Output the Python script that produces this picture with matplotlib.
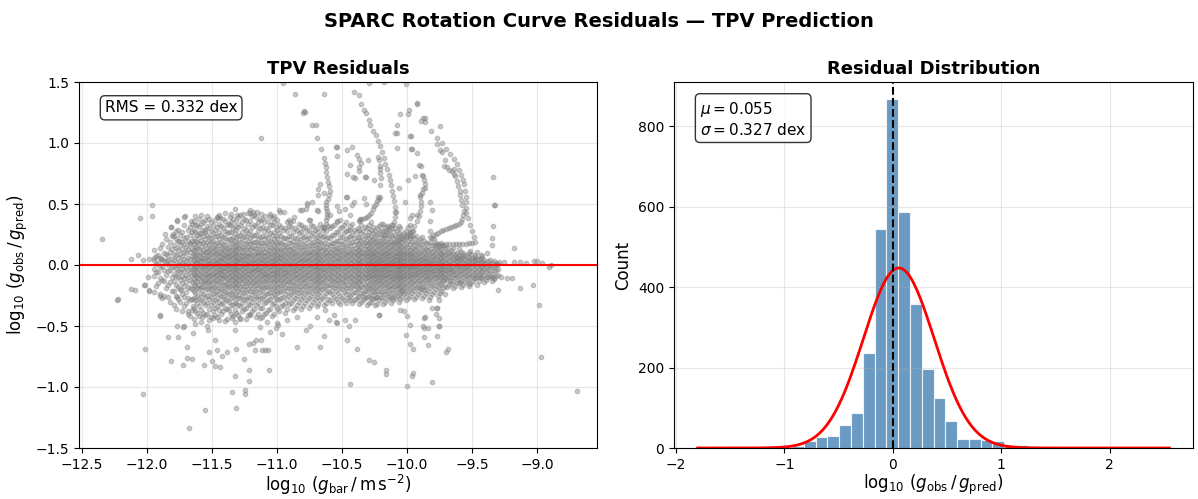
import numpy as np
import matplotlib
matplotlib.use("Agg")
import matplotlib.pyplot as plt

# ---------------- data: histogram ----------------
hist_range = (-1.80, 2.55)
hist_counts = [1, 0, 0, 0, 0, 1, 1, 2, 4, 17,
               28, 31, 56, 86, 236, 544, 867, 587, 358, 196,
               124, 67, 22, 23, 20, 17, 8, 7, 6, 2,
               3, 2, 1, 1, 1, 0, 0, 0, 0, 1]
n_points = 3375
mu_res = 0.055
sigma_res = 0.327
rms_res = 0.332

# ---------------- data: residual scatter ----------------
# dense core: column position -> residuals in hundredths of dex
core_cols = [
    (-11.94, "-22 -9 -3 4 12"),
    (-11.91, "-15 -6 2 8"),
    (-11.88, "-27 -12 -1 5 17"),
    (-11.85, "-19 -8 3 9 21"),
    (-11.82, "-30 -14 -4 2 11 19"),
    (-11.79, "-33 -21 -13 -7 -1 4 9 16 24"),
    (-11.76, "-28 -18 -10 -5 0 6 12 20 29"),
    (-11.73, "-38 -24 -15 -9 -3 2 7 13 19 27"),
    (-11.70, "-31 -22 -14 -8 -2 3 10 15 23"),
    (-11.67, "-42 -29 -19 -12 -6 -1 5 11 18 25 31"),
    (-11.64, "-44 -35 -27 -21 -16 -11 -7 -3 0 4 8 12 17 22 29 36"),
    (-11.61, "-39 -31 -25 -19 -14 -10 -6 -2 2 5 9 14 19 25 33"),
    (-11.58, "-47 -37 -29 -23 -18 -13 -9 -5 -1 3 6 10 15 20 26 34 41"),
    (-11.55, "-41 -33 -26 -20 -15 -12 -8 -4 -1 2 6 11 16 21 27 37"),
    (-11.52, "-45 -36 -28 -22 -17 -13 -9 -6 -2 1 4 8 12 17 23 30 38"),
    (-11.49, "-38 -30 -24 -19 -14 -10 -7 -3 0 3 7 11 15 20 26 33"),
    (-11.46, "-43 -34 -27 -21 -16 -12 -8 -5 -1 2 5 9 13 18 24 31 39"),
    (-11.43, "-40 -32 -25 -20 -15 -11 -7 -4 -1 3 6 10 14 19 25 32"),
    (-11.40, "-46 -35 -28 -22 -17 -13 -9 -5 -2 1 5 8 12 16 22 28 36 43"),
    (-11.37, "-37 -30 -24 -18 -14 -10 -6 -3 0 4 7 11 15 21 27 34"),
    (-11.34, "-42 -33 -26 -21 -16 -12 -8 -4 -1 2 6 9 13 18 23 30 38"),
    (-11.31, "-39 -31 -25 -19 -15 -11 -7 -3 1 4 8 12 16 22 29 36"),
    (-11.28, "-44 -34 -27 -22 -17 -12 -9 -5 -2 2 5 9 14 19 25 33 41"),
    (-11.25, "-36 -29 -23 -18 -13 -9 -6 -2 1 5 8 12 17 23 30 38"),
    (-11.22, "-41 -32 -26 -20 -15 -11 -7 -4 0 3 7 10 15 20 26 34 43"),
    (-11.19, "-38 -30 -24 -19 -14 -10 -6 -3 1 4 8 13 18 24 31 40"),
    (-11.16, "-43 -33 -26 -21 -16 -12 -8 -4 -1 2 6 10 14 19 25 32 39"),
    (-11.13, "-35 -28 -22 -17 -13 -9 -5 -2 2 5 9 13 18 23 30 37"),
    (-11.10, "-40 -31 -25 -19 -14 -10 -7 -3 0 4 7 11 16 21 28 35"),
    (-11.07, "-37 -29 -23 -18 -13 -9 -6 -2 1 5 9 12 17 22 29 36"),
    (-11.04, "-42 -32 -25 -20 -15 -11 -7 -4 0 3 6 10 14 19 25 33"),
    (-11.01, "-34 -27 -21 -16 -12 -8 -5 -1 2 6 9 13 18 24 31"),
    (-10.98, "-38 -29 -22 -17 -12 -8 -4 -1 3 6 10 14 19 26 33"),
    (-10.95, "-33 -26 -20 -15 -11 -7 -3 0 4 8 12 17 22 29"),
    (-10.92, "-36 -28 -21 -16 -12 -8 -5 -1 2 6 10 15 21 28 35"),
    (-10.89, "-31 -24 -19 -14 -10 -6 -2 1 5 9 13 18 24 31"),
    (-10.86, "-35 -27 -21 -16 -11 -7 -4 0 3 7 11 16 22 30"),
    (-10.83, "-30 -23 -18 -13 -9 -5 -2 2 5 9 14 19 26 34"),
    (-10.80, "-34 -26 -20 -15 -11 -7 -3 0 4 8 12 17 23 30"),
    (-10.77, "-29 -22 -17 -12 -8 -5 -1 3 6 10 15 21 28"),
    (-10.74, "-33 -25 -19 -14 -10 -6 -2 1 5 9 13 18 25 33"),
    (-10.71, "-28 -21 -16 -12 -8 -4 -1 3 7 11 16 22 29"),
    (-10.68, "-32 -24 -18 -13 -9 -5 -2 2 6 10 14 20 27"),
    (-10.65, "-27 -20 -15 -11 -7 -3 0 4 8 12 17 23 31"),
    (-10.62, "-31 -23 -17 -12 -8 -4 -1 3 7 11 15 21 28"),
    (-10.59, "-29 -22 -16 -12 -8 -4 0 3 7 11 16 22 30"),
    (-10.56, "-26 -19 -14 -10 -6 -2 1 5 9 13 18 25 33"),
    (-10.53, "-30 -23 -17 -12 -8 -4 -1 3 6 10 14 20 27"),
    (-10.50, "-27 -20 -15 -11 -7 -3 0 4 8 12 17 23 31"),
    (-10.47, "-31 -24 -18 -13 -9 -5 -1 2 6 10 15 21 28 35"),
    (-10.44, "-25 -19 -14 -10 -6 -2 2 5 9 13 18 24 32"),
    (-10.41, "-29 -22 -16 -12 -8 -4 -1 3 7 11 16 22 29"),
    (-10.38, "-26 -20 -15 -11 -7 -3 1 4 8 12 17 23 30"),
    (-10.35, "-30 -23 -17 -12 -8 -4 0 3 7 11 15 20 26 33"),
    (-10.32, "-27 -21 -16 -11 -7 -3 1 5 9 13 18 24 31"),
    (-10.29, "-31 -25 -20 -16 -12 -9 -6 -3 0 2 5 8 11 14 18 22 27 33"),
    (-10.26, "-28 -22 -18 -14 -10 -7 -4 -1 1 4 7 10 13 17 21 26 31"),
    (-10.23, "-32 -26 -21 -17 -13 -10 -7 -4 -2 1 3 6 9 12 16 20 25 30"),
    (-10.20, "-27 -22 -17 -13 -10 -7 -4 -1 2 4 7 10 14 18 23 28 34"),
    (-10.17, "-30 -24 -19 -15 -11 -8 -5 -2 0 3 6 9 12 16 20 25 31"),
    (-10.14, "-26 -21 -17 -13 -9 -6 -3 0 2 5 8 11 15 19 24 29"),
    (-10.11, "-29 -23 -18 -14 -11 -8 -5 -2 1 3 6 9 13 17 22 27 33"),
    (-10.08, "-25 -20 -16 -12 -9 -6 -3 -1 2 4 7 10 14 18 23 28"),
    (-10.05, "-28 -22 -17 -13 -10 -7 -4 -1 1 4 7 11 15 19 24 30"),
    (-10.02, "-24 -19 -15 -11 -8 -5 -2 0 3 6 9 12 16 21 26"),
    (-9.99, "-27 -21 -16 -12 -9 -6 -3 -1 2 5 8 11 15 20 25 31"),
    (-9.96, "-23 -18 -14 -10 -7 -4 -1 1 4 7 10 14 19 24"),
    (-9.93, "-26 -19 -14 -10 -7 -4 -1 2 5 9 13 18 24"),
    (-9.90, "-22 -16 -12 -8 -5 -2 1 4 7 11 16 21"),
    (-9.87, "-25 -18 -13 -9 -6 -3 0 3 6 10 14 20"),
    (-9.84, "-21 -15 -11 -8 -5 -2 1 4 8 12 17"),
    (-9.81, "-24 -17 -12 -8 -5 -2 1 4 7 11 16 22"),
    (-9.78, "-20 -14 -10 -7 -4 -1 2 5 9 13 18"),
    (-9.75, "-23 -16 -11 -7 -4 -1 2 6 10 15"),
    (-9.72, "-19 -13 -9 -6 -3 0 3 7 11 16"),
    (-9.69, "-18 -12 -8 -4 -1 2 6 10 14"),
    (-9.66, "-15 -10 -6 -3 0 4 8 12"),
    (-9.63, "-17 -11 -7 -3 1 5 9"),
    (-9.60, "-14 -9 -5 -2 1 4 8 13"),
    (-9.57, "-16 -10 -6 -2 2 6 10"),
    (-9.54, "-12 -8 -4 -1 3 7"),
    (-9.51, "-15 -9 -5 -1 2 5 9"),
    (-9.48, "-11 -7 -3 1 4 8"),
    (-9.45, "-13 -7 -3 1 5"),
    (-9.42, "-10 -5 -1 3 7"),
    (-9.39, "-12 -6 -2 2"),
    (-9.36, "-9 -4 0 4"),
    (-9.33, "-11 -5 -1 3"),
    (-9.30, "-8 -3 1"),
]
core_cols_b = [
    (-11.925, "-17 -6 1 7"),
    (-11.895, "-24 -11 -2 6 14"),
    (-11.865, "-13 -4 3 10"),
    (-11.835, "-26 -16 -5 0 7 15"),
    (-11.805, "-21 -10 -2 5 13 24"),
    (-11.775, "-36 -25 -16 -9 -3 2 8 14 21 28"),
    (-11.745, "-30 -20 -12 -6 -1 3 9 16 25"),
    (-11.715, "-34 -26 -17 -11 -5 0 5 11 17 22 33"),
    (-11.685, "-40 -27 -18 -10 -4 1 6 13 20 29"),
    (-11.655, "-37 -28 -20 -14 -8 -3 2 7 13 20 27 34"),
    (-11.625, "-48 -38 -29 -23 -17 -13 -8 -4 -1 2 6 10 15 20 27 33 40"),
    (-11.595, "-42 -34 -27 -20 -16 -11 -7 -3 1 4 8 13 18 23 31 38"),
    (-11.565, "-39 -30 -24 -18 -14 -10 -6 -2 0 5 9 12 18 24 29 35"),
    (-11.535, "-50 -40 -31 -25 -19 -14 -10 -7 -3 1 4 7 11 14 19 25 32 40"),
    (-11.505, "-43 -33 -26 -20 -16 -12 -8 -4 -1 2 6 10 14 19 22 28 35"),
    (-11.475, "-41 -35 -29 -23 -18 -13 -9 -6 -2 1 4 9 13 17 24 29 37"),
    (-11.445, "-45 -37 -30 -24 -19 -14 -10 -6 -3 0 3 7 11 16 21 27 34 41"),
    (-11.415, "-38 -31 -26 -21 -16 -11 -8 -5 -2 2 6 9 13 17 23 30 38"),
    (-11.385, "-44 -36 -29 -24 -19 -15 -11 -7 -3 0 3 7 10 14 20 26 33"),
    (-11.355, "-40 -33 -27 -22 -17 -12 -9 -6 -2 1 5 8 12 17 21 27 35 42"),
    (-11.325, "-47 -37 -30 -24 -18 -14 -10 -6 -3 0 3 7 11 15 20 26 32"),
    (-11.295, "-41 -33 -27 -21 -16 -12 -8 -4 -1 3 6 10 14 18 24 31 39"),
    (-11.265, "-38 -31 -25 -20 -15 -11 -7 -3 0 4 7 11 15 21 27 35"),
    (-11.235, "-44 -35 -28 -22 -17 -13 -9 -5 -2 1 4 8 13 18 24 29 37"),
    (-11.205, "-40 -33 -27 -21 -16 -12 -8 -5 -1 2 6 9 13 17 22 28 36 45"),
    (-11.175, "-36 -28 -22 -17 -13 -9 -5 -2 2 5 9 14 19 25 33 41"),
    (-11.145, "-40 -31 -25 -19 -14 -10 -6 -3 0 4 8 11 16 21 28 35"),
    (-11.115, "-43 -35 -27 -21 -17 -12 -8 -5 -1 2 5 9 13 18 24 31 38"),
    (-11.085, "-39 -30 -24 -18 -14 -10 -7 -3 1 4 8 13 18 24 30"),
    (-11.055, "-36 -28 -22 -17 -12 -8 -4 -1 2 6 10 15 20 26 33 40"),
    (-11.025, "-40 -31 -24 -19 -14 -10 -6 -2 1 4 8 12 16 21 27 35"),
    (-10.995, "-36 -28 -23 -18 -13 -9 -6 -3 1 5 8 12 17 22 29 37"),
    (-10.965, "-34 -27 -21 -16 -12 -8 -4 -1 2 6 9 13 18 24 31"),
    (-10.935, "-39 -31 -24 -18 -13 -9 -6 -3 1 4 8 12 16 22 30"),
    (-10.905, "-32 -25 -19 -14 -10 -6 -2 1 5 9 13 18 24 32"),
    (-10.875, "-37 -29 -22 -17 -13 -9 -5 -2 2 6 10 14 20 27 36"),
    (-10.845, "-33 -25 -20 -15 -11 -7 -3 0 4 8 12 17 22 29"),
    (-10.815, "-36 -28 -22 -17 -12 -8 -4 -1 3 6 10 15 21 27 33"),
    (-10.785, "-31 -24 -18 -14 -10 -6 -2 2 5 9 13 18 24 31"),
    (-10.755, "-35 -27 -21 -16 -11 -7 -3 0 4 8 11 16 22 29 37"),
    (-10.725, "-30 -23 -18 -13 -9 -5 -1 2 6 10 14 19 26 32"),
    (-10.695, "-34 -26 -20 -15 -11 -7 -3 0 4 8 12 17 23 30"),
    (-10.665, "-29 -22 -17 -13 -9 -5 -2 2 5 9 14 19 25 34"),
    (-10.635, "-33 -25 -19 -14 -10 -6 -3 1 5 9 13 18 24 30"),
    (-10.605, "-28 -21 -16 -11 -7 -3 0 4 8 12 17 23 32"),
    (-10.575, "-31 -24 -18 -13 -9 -5 -2 1 5 9 13 18 25 32"),
    (-10.545, "-28 -21 -16 -12 -8 -4 -1 3 7 11 15 20 27"),
    (-10.515, "-32 -25 -19 -14 -10 -6 -2 1 5 8 12 17 23 30 37"),
    (-10.485, "-29 -22 -17 -13 -9 -5 -2 2 6 10 14 19 26 33"),
    (-10.455, "-27 -21 -16 -11 -7 -3 0 4 8 11 16 22 29"),
    (-10.425, "-31 -24 -18 -14 -10 -6 -2 1 5 9 13 19 25 34"),
    (-10.395, "-28 -22 -17 -13 -9 -5 -1 2 6 10 14 20 27"),
    (-10.365, "-32 -25 -19 -14 -10 -6 -2 2 5 9 13 18 23 29 36"),
    (-10.335, "-29 -23 -18 -13 -9 -5 -1 3 7 11 16 21 28"),
    (-10.305, "-33 -26 -21 -17 -13 -10 -7 -4 -1 1 4 7 10 13 16 20 25 30"),
    (-10.275, "-30 -24 -19 -15 -11 -8 -5 -2 1 3 6 9 12 16 20 24 29 35"),
    (-10.245, "-33 -27 -22 -18 -14 -11 -8 -5 -3 0 2 5 8 11 15 19 23 28"),
    (-10.215, "-29 -24 -19 -15 -12 -9 -6 -3 0 3 5 8 12 16 20 26 32"),
    (-10.185, "-32 -26 -21 -16 -12 -9 -6 -3 -1 2 5 8 11 15 19 23 28 34"),
    (-10.155, "-28 -23 -18 -14 -10 -7 -4 -1 1 4 7 10 13 17 22 27 32"),
    (-10.125, "-31 -25 -20 -16 -12 -9 -6 -3 0 2 5 8 12 16 20 25 30"),
    (-10.095, "-27 -22 -17 -13 -10 -7 -4 -1 1 4 7 10 14 19 24 30"),
    (-10.065, "-30 -24 -19 -15 -11 -8 -5 -2 0 3 6 9 12 16 21 26 32"),
    (-10.035, "-26 -21 -16 -12 -9 -6 -3 0 2 5 8 11 15 20 25"),
    (-10.005, "-29 -23 -18 -14 -10 -7 -4 -1 1 4 7 10 14 18 23 28"),
    (-9.975, "-25 -20 -15 -11 -8 -5 -2 0 3 6 9 12 17 22 27"),
    (-9.945, "-28 -21 -16 -12 -8 -5 -2 0 3 6 9 13 17 22"),
    (-9.915, "-24 -18 -13 -9 -6 -3 0 3 6 10 15 20"),
    (-9.885, "-27 -20 -15 -11 -7 -4 -1 2 5 8 12 17 23"),
    (-9.855, "-23 -17 -12 -9 -6 -3 0 3 6 9 13 18"),
    (-9.825, "-26 -19 -14 -10 -6 -3 0 2 5 9 13 19"),
    (-9.795, "-22 -16 -11 -7 -4 -1 2 5 8 12 16 21"),
    (-9.765, "-25 -18 -13 -9 -5 -2 1 4 8 12 17"),
    (-9.735, "-21 -15 -10 -6 -3 0 3 6 9 13 18"),
    (-9.705, "-24 -17 -11 -7 -4 -1 2 5 9 14"),
    (-9.675, "-16 -10 -6 -3 0 3 7 11"),
    (-9.645, "-19 -13 -8 -5 -2 2 5 9 14"),
    (-9.615, "-15 -10 -6 -2 0 3 6 10"),
    (-9.585, "-18 -12 -7 -4 -1 3 6 11"),
    (-9.555, "-14 -9 -5 -2 1 4 8"),
    (-9.525, "-17 -11 -7 -3 0 3 6 10"),
    (-9.495, "-13 -8 -4 0 3 6"),
    (-9.465, "-16 -10 -6 -2 2 5"),
    (-9.435, "-11 -6 -2 2 6"),
    (-9.405, "-14 -8 -3 1 4"),
    (-9.375, "-10 -5 -1 3"),
    (-9.345, "-13 -7 -2 2"),
    (-9.315, "-9 -4 0 2"),
]

# individual rotation-curve tracks (log g_bar, residual)
track_b = [(-10.405, 1.418), (-10.367, 1.39), (-10.351, 1.322), (-10.328, 1.273), (-10.313, 1.249),
           (-10.295, 1.19), (-10.282, 1.145), (-10.262, 1.10), (-10.241, 1.063), (-10.223, 1.019),
           (-10.21, 0.973), (-10.195, 0.926), (-10.179, 0.877), (-10.167, 0.83), (-10.154, 0.784),
           (-10.141, 0.74), (-10.131, 0.697), (-10.121, 0.653), (-10.113, 0.609), (-10.105, 0.566),
           (-10.10, 0.522), (-10.095, 0.478), (-10.092, 0.434), (-10.095, 0.39), (-10.103, 0.352),
           (-10.12, 0.325), (-10.141, 0.309), (-10.16, 0.28), (-10.18, 0.25)]
track_c = [(-10.36, 0.375), (-10.343, 0.38), (-10.325, 0.385), (-10.305, 0.395), (-10.29, 0.41),
           (-10.275, 0.43), (-10.26, 0.455), (-10.25, 0.48), (-10.24, 0.50), (-10.228, 0.525),
           (-10.215, 0.545), (-10.205, 0.56)]
track_d = [(-10.64, 0.88), (-10.63, 0.84), (-10.625, 0.80), (-10.62, 0.76), (-10.615, 0.72),
           (-10.605, 0.68), (-10.60, 0.645), (-10.595, 0.605), (-10.60, 0.57), (-10.61, 0.54),
           (-10.62, 0.515), (-10.625, 0.49), (-10.622, 0.465), (-10.618, 0.44), (-10.615, 0.415),
           (-10.615, 0.39), (-10.62, 0.365), (-10.625, 0.34), (-10.635, 0.315), (-10.645, 0.29)]
track_e = [(-9.77, 1.04), (-9.73, 1.0), (-9.70, 0.95), (-9.667, 0.91), (-9.64, 0.87), (-9.615, 0.83),
           (-9.60, 0.78), (-9.585, 0.74), (-9.57, 0.70), (-9.565, 0.66), (-9.555, 0.61), (-9.55, 0.56),
           (-9.546, 0.52), (-9.546, 0.47), (-9.544, 0.43), (-9.533, 0.385), (-9.518, 0.33),
           (-9.50, 0.276), (-9.482, 0.227), (-9.48, 0.19), (-9.50, 0.18), (-9.525, 0.178),
           (-9.55, 0.176), (-9.575, 0.175), (-9.60, 0.175), (-9.625, 0.174), (-9.65, 0.173),
           (-9.675, 0.172), (-9.70, 0.17), (-9.725, 0.168), (-9.75, 0.165), (-9.775, 0.16)]
track_e2 = [(-9.82, 0.23), (-9.80, 0.245), (-9.78, 0.255), (-9.76, 0.265), (-9.74, 0.275),
            (-9.72, 0.285), (-9.70, 0.295), (-9.68, 0.305), (-9.66, 0.315), (-9.64, 0.322),
            (-9.62, 0.328), (-9.60, 0.335), (-9.585, 0.35), (-9.575, 0.38), (-9.57, 0.41),
            (-9.565, 0.44), (-9.713, 0.81), (-9.69, 0.80), (-9.675, 0.78), (-9.654, 0.768),
            (-9.64, 0.745), (-9.628, 0.727), (-9.615, 0.686), (-9.605, 0.65), (-9.595, 0.61),
            (-9.59, 0.57), (-9.585, 0.53), (-9.58, 0.49)]
track_f = [(-9.885, 0.74), (-9.87, 0.70), (-9.86, 0.66), (-9.875, 0.62), (-9.885, 0.59), (-9.90, 0.56),
           (-9.89, 0.52), (-9.892, 0.48), (-9.90, 0.44), (-9.91, 0.40), (-9.92, 0.36), (-9.944, 0.32),
           (-9.96, 0.276), (-9.975, 0.24), (-10.10, 0.18), (-10.07, 0.20), (-10.04, 0.22),
           (-10.01, 0.24), (-9.98, 0.26), (-9.95, 0.28), (-10.218, 0.863), (-10.21, 0.81),
           (-10.205, 0.754), (-10.20, 0.713), (-10.205, 0.658)]

# scattered points above the core
upper_pts = [(-12.34, 0.21), (-12.05, 0.385), (-11.96, 0.40), (-11.96, 0.49), (-11.12, 1.04),
             (-10.86, 1.40), (-10.95, 1.49), (-10.80, 1.25), (-10.78, 1.255), (-10.73, 1.145),
             (-10.70, 1.15), (-10.69, 1.04), (-10.66, 0.95), (-10.64, 1.40), (-10.54, 0.97),
             (-10.46, 0.945), (-10.42, 0.97), (-10.29, 1.49), (-10.18, 1.50), (-10.005, 1.48),
             (-9.92, 1.32), (-9.99, 1.235), (-10.05, 1.235), (-9.875, 1.205), (-9.86, 1.17),
             (-9.75, 1.14), (-9.815, 1.096), (-9.97, 1.055), (-10.08, 1.08), (-10.08, 0.96),
             (-9.965, 0.95), (-9.92, 0.92), (-9.91, 0.82), (-9.89, 0.81), (-9.94, 0.73),
             (-9.99, 0.70), (-9.877, 0.73), (-9.75, 0.945), (-9.77, 0.99), (-9.338, 0.72),
             (-9.32, 0.49), (-9.34, 0.32), (-9.35, 0.22), (-9.35, 0.167), (-9.18, 0.14),
             (-10.37, 0.87), (-10.30, 0.86), (-10.22, 0.885), (-10.21, 0.79), (-10.257, 0.70),
             (-10.32, 0.72), (-10.37, 0.80), (-10.435, 0.82), (-10.40, 0.716), (-10.46, 0.75),
             (-10.46, 0.56), (-10.41, 0.52), (-10.48, 0.46), (-10.67, 0.667), (-10.687, 0.625),
             (-10.73, 0.52), (-10.776, 0.46), (-10.81, 0.45), (-10.865, 0.39), (-10.91, 0.37),
             (-10.946, 0.435), (-11.02, 0.40), (-11.32, 0.46), (-11.26, 0.42), (-11.18, 0.435),
             (-11.12, 0.42), (-11.05, 0.42), (-10.98, 0.45), (-11.45, 0.39), (-11.36, 0.39),
             (-11.716, 0.39), (-11.77, 0.365), (-11.81, 0.31), (-11.86, 0.257), (-11.75, 0.20),
             (-11.67, 0.17), (-12.12, 0.05), (-12.064, 0.08), (-12.026, 0.04), (-11.98, 0.05),
             (-11.94, 0.055), (-11.89, 0.05), (-11.84, 0.04), (-11.795, 0.254), (-11.81, 0.314),
             (-11.77, 0.363), (-11.705, 0.40), (-11.66, 0.363), (-11.60, 0.26), (-11.55, 0.287),
             (-11.436, 0.383), (-11.359, 0.328), (-11.308, 0.41), (-11.205, 0.423), (-11.154, 0.437),
             (-11.09, 0.404), (-11.026, 0.383), (-10.974, 0.437), (-10.897, 0.355), (-10.82, 0.45),
             (-10.744, 0.369), (-10.69, 0.45), (-10.59, 0.41), (-10.54, 0.355), (-10.436, 0.41),
             (-10.36, 0.369), (-10.77, 0.505), (-10.42, 0.49), (-10.795, 1.26), (-10.546, 0.97),
             (-10.54, 0.89), (-10.385, 0.90), (-10.35, 0.836), (-10.318, 0.724), (-10.372, 0.773),
             (-10.418, 0.72), (-10.467, 0.557), (-10.333, 0.55), (-10.313, 0.50), (-10.226, 0.555),
             (-10.082, 0.434), (-10.064, 0.63), (-10.013, 0.516), (-9.987, 1.273), (-10.077, 1.15),
             (-10.09, 1.08), (-9.974, 1.055), (-9.97, 0.95), (-9.923, 1.33), (-9.892, 1.18),
             (-9.864, 1.205), (-9.73, 0.93), (-9.705, 0.86), (-9.636, 0.79), (-9.328, 0.494),
             (-9.98, 0.385), (-9.897, 0.576), (-9.86, 0.63), (-9.82, 0.52), (-9.808, 0.453),
             (-9.82, 0.358), (-9.923, 0.41), (-9.96, 0.41), (-9.98, 0.33), (-9.82, 0.276),
             (-10.77, 0.49), (-10.68, 0.57), (-10.64, 0.59), (-10.68, 0.44), (-10.54, 0.48),
             (-10.526, 0.44), (-10.54, 0.358), (-10.436, 0.29), (-9.385, 0.10), (-9.474, 0.068),
             (-9.513, 0.115), (-9.295, 0.027), (-9.256, 0.027), (-9.18, 0.027), (-9.128, 0.027),
             (-9.085, 0.014), (-9.026, 0.033), (-9.0, 0.033), (-8.96, 0.019), (-8.91, -0.014),
             (-8.897, 0.0), (-9.615, 0.068), (-9.58, 0.07), (-9.46, 0.109), (-9.43, 0.08)]

# scattered points below the core
lower_pts = [(-12.227, -0.287), (-12.086, -0.202), (-11.986, -0.208), (-12.01, -0.16), (-11.897, -0.257),
             (-11.897, -0.413), (-12.027, -1.055), (-12.01, -0.69), (-11.835, -0.59), (-11.76, -0.59),
             (-11.81, -0.787), (-11.72, -0.82), (-11.694, -0.672), (-11.69, -0.76), (-11.65, -0.773),
             (-11.71, -0.503), (-11.643, -0.557), (-11.68, -0.38), (-11.646, -0.339), (-11.676, -1.336),
             (-11.562, -0.817), (-11.55, -1.19), (-11.53, -0.536), (-11.52, -0.713), (-11.50, -0.787),
             (-11.478, -0.828), (-11.435, -0.836), (-11.478, -0.617), (-11.46, -0.70), (-11.424, -0.749),
             (-11.38, -0.713), (-11.343, -1.041), (-11.31, -1.172), (-11.324, -0.907), (-11.32, -0.535),
             (-11.31, -0.686), (-11.25, -0.768), (-11.244, -1.022), (-11.244, -1.06), (-11.21, -0.95),
             (-11.21, -0.858), (-11.21, -0.645), (-11.18, -0.637), (-11.17, -0.70), (-11.16, -0.612),
             (-11.12, -0.612), (-11.115, -0.70), (-11.09, -0.70), (-11.06, -0.863), (-11.07, -0.70),
             (-11.05, -0.55), (-11.008, -0.52), (-10.99, -0.495), (-10.96, -0.568), (-10.843, -0.672),
             (-10.776, -0.536), (-10.667, -0.672), (-10.64, -0.585), (-10.60, -0.454), (-10.545, -0.467),
             (-10.48, -0.454), (-10.46, -0.617), (-10.446, -0.497), (-10.384, -0.686), (-10.435, -0.973),
             (-10.29, -0.78), (-10.254, -0.795), (-10.216, -0.413), (-10.165, -0.858), (-10.165, -0.89),
             (-9.965, -0.913), (-9.957, -0.883), (-10.0, -0.99), (-10.005, -0.576), (-9.978, -0.65),
             (-9.957, -0.685), (-9.87, -0.514), (-9.87, -0.59), (-9.86, -0.43), (-9.84, -0.515),
             (-9.81, -0.959), (-9.84, -0.658), (-9.757, -0.503), (-9.767, -0.58), (-9.70, -0.713),
             (-9.684, -0.689), (-9.754, -0.29), (-9.767, -0.353), (-9.78, -0.40), (-9.297, -0.208),
             (-9.128, -0.186), (-9.035, -0.167), (-8.986, -0.325), (-8.97, -0.754), (-8.694, -1.036),
             (-11.87, -0.25), (-11.77, -0.497), (-11.718, -0.505), (-11.577, -0.423), (-11.487, -0.437),
             (-11.346, -0.437), (-11.282, -0.437), (-11.205, -0.41), (-11.128, -0.432), (-11.077, -0.464),
             (-11.0, -0.478), (-10.923, -0.45), (-10.846, -0.429), (-10.69, -0.423), (-10.628, -0.369),
             (-10.564, -0.41), (-10.436, -0.287), (-10.33, -0.26), (-11.128, -0.505), (-10.744, -0.50),
             (-10.54, -0.473), (-10.397, -0.45), (-9.346, -0.10), (-9.23, -0.11), (-9.19, -0.11),
             (-9.333, -0.117), (-9.385, -0.096), (-9.436, -0.10), (-9.487, -0.11), (-9.28, -0.10),
             (-9.526, -0.158), (-9.59, -0.137), (-9.667, -0.131), (-9.718, -0.123), (-9.756, -0.437),
             (-9.77, -0.355), (-9.81, -0.355), (-9.83, -0.287), (-9.867, -0.205), (-9.897, -0.191),
             (-10.0, -0.42), (-9.974, -0.495), (-10.05, -0.37), (-10.026, -0.38), (-9.87, -0.437),
             (-9.877, -0.50), (-9.756, -0.50), (-10.04, -0.205), (-10.115, -0.273), (-10.218, -0.41),
             (-10.236, -0.26), (-10.28, -0.273), (-12.12, -0.20), (-12.22, -0.28), (-11.90, -0.415),
             (-11.99, -0.10), (-12.02, -0.164), (-11.98, -0.21), (-11.74, -0.205), (-11.77, -0.265)]

# ---------------- assemble scatter arrays ----------------
sx, sy = [], []
for cols in (core_cols, core_cols_b):
    for xc, ys in cols:
        for v in ys.split():
            sx.append(xc)
            sy.append(int(v) / 100.0)
for group in (track_b, track_c, track_d, track_e, track_e2, track_f, upper_pts, lower_pts):
    for px, py in group:
        sx.append(px)
        sy.append(py)
sx = np.array(sx)
sy = np.array(sy)

# ---------------- figure ----------------
fig = plt.figure(figsize=(11.98, 4.99), dpi=100)
W, H = 1198.0, 499.0
ax1 = fig.add_axes([79 / W, 1 - 448 / H, (597 - 79) / W, (448 - 82) / H])
ax2 = fig.add_axes([674 / W, 1 - 448 / H, (1193 - 674) / W, (448 - 82) / H])

# left: residual scatter
ax1.scatter(sx, sy, s=10, color="gray", alpha=0.4)
ax1.axhline(0, color="red", lw=1.5)
ax1.set_xlim(-12.52, -8.54)
ax1.set_ylim(-1.5, 1.5)
ax1.grid(True, alpha=0.3)
ax1.set_xlabel(r"$\log_{10}\,(g_{\rm bar}\,/\,\mathrm{m\,s^{-2}})$", fontsize=12, labelpad=1)
ax1.set_ylabel(r"$\log_{10}\,(g_{\rm obs}\,/\,g_{\rm pred})$", fontsize=12)
ax1.set_title("TPV Residuals", fontsize=13, fontweight="bold")
ax1.text(0.05, 0.95, f"RMS = {rms_res:.3f} dex", transform=ax1.transAxes, fontsize=11,
         va="top", ha="left",
         bbox=dict(boxstyle="round", facecolor="white", edgecolor="black", alpha=0.8))
ax1.tick_params(labelsize=10)

# right: histogram
nb = len(hist_counts)
edges = np.linspace(hist_range[0], hist_range[1], nb + 1)
bw = edges[1] - edges[0]
centers = 0.5 * (edges[:-1] + edges[1:])
ax2.bar(centers, hist_counts, width=bw, color="steelblue", alpha=0.8,
        edgecolor="white", linewidth=0.8)
xg = np.linspace(hist_range[0], hist_range[1], 300)
yg = n_points * bw / (sigma_res * np.sqrt(2 * np.pi)) * np.exp(-0.5 * ((xg - mu_res) / sigma_res) ** 2)
ax2.plot(xg, yg, color="red", lw=2)
ax2.axvline(0, color="black", ls="--", lw=1.5)
ax2.grid(True, alpha=0.3)
ax2.set_xlabel(r"$\log_{10}\,(g_{\rm obs}\,/\,g_{\rm pred})$", fontsize=12, labelpad=1)
ax2.set_ylabel("Count", fontsize=12)
ax2.set_title("Residual Distribution", fontsize=13, fontweight="bold")
ax2.text(0.05, 0.95, f"$\\mu = {mu_res:.3f}$\n$\\sigma = {sigma_res:.3f}$ dex",
         transform=ax2.transAxes, fontsize=11, va="top", ha="left",
         bbox=dict(boxstyle="round", facecolor="white", edgecolor="black", alpha=0.8))
ax2.tick_params(labelsize=10)

fig.suptitle("SPARC Rotation Curve Residuals — TPV Prediction", fontsize=14,
             fontweight="bold", y=0.975)

fig.savefig("out.png", dpi=100)
